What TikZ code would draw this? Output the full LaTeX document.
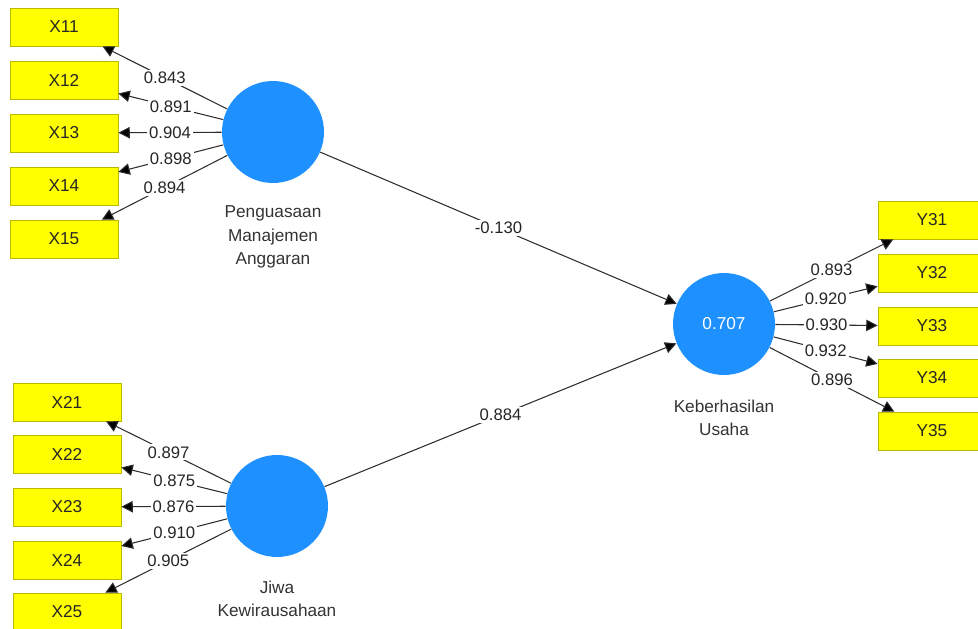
\documentclass[tikz,border=0pt]{standalone}
\usepackage{fontspec}
\setmainfont{Liberation Sans}
\usetikzlibrary{arrows.meta}
\definecolor{giallo}{RGB}{255,255,0}
\definecolor{bordogiallo}{RGB}{185,185,0}
\definecolor{azzurro}{RGB}{30,144,255}
\definecolor{linea}{RGB}{45,45,45}
\tikzset{
    indicatore/.style={draw=bordogiallo, fill=giallo, minimum width=2.16cm, minimum height=0.76cm,
        inner sep=0pt, text=black!85, font=\fontsize{9.8}{11}\selectfont},
    latente/.style={circle, fill=azzurro, minimum size=2.04cm, inner sep=0pt, text=white,
        font=\fontsize{9.8}{11}\selectfont},
    nome/.style={align=center, text=black!80, font=\fontsize{9.8}{13.2}\selectfont},
    freccia/.style={draw=linea, line width=0.6pt, -{Triangle[length=6.5pt,width=6.5pt,fill=black]}},
    coeff/.style={fill=white, inner sep=1.2pt, text=black!85, font=\fontsize{9.5}{11}\selectfont}
}
\begin{document}
\begin{tikzpicture}[x=0.02cm, y=-0.02cm]
    \useasboundingbox (0,0) rectangle (978,629);
    %variabili latenti
        \node[latente] (pma) at (273,132) {};
        \node[latente] (jk) at (277,506) {};
        \node[latente] (ku) at (724,324) {0.707};
        \node[nome] (npma) at (273,237) {Penguasaan\\Manajemen\\Anggaran};
        \node[nome] (njk) at (277,599) {Jiwa\\Kewirausahaan};
        \node[nome] (nku) at (724,418) {Keberhasilan\\Usaha};
    %indicatori X1
        \node[indicatore] (x11) at (64,27) {X11};
        \node[indicatore] (x12) at (64,80) {X12};
        \node[indicatore] (x13) at (64,133) {X13};
        \node[indicatore] (x14) at (64,186) {X14};
        \node[indicatore] (x15) at (64,239) {X15};
    %indicatori X2
        \node[indicatore] (x21) at (67,402) {X21};
        \node[indicatore] (x22) at (67,454) {X22};
        \node[indicatore] (x23) at (67,507) {X23};
        \node[indicatore] (x24) at (67,560) {X24};
        \node[indicatore] (x25) at (67,612) {X25};
    %indicatori Y3
        \node[indicatore] (y31) at (932,220) {Y31};
        \node[indicatore] (y32) at (932,273) {Y32};
        \node[indicatore] (y33) at (932,326) {Y33};
        \node[indicatore] (y34) at (932,378) {Y34};
        \node[indicatore] (y35) at (932,431) {Y35};
    %carichi X1
        \draw[freccia] (pma) -- node[coeff]{0.843} (x11);
        \draw[freccia] (pma) -- node[coeff]{0.891} (x12);
        \draw[freccia] (pma) -- node[coeff]{0.904} (x13);
        \draw[freccia] (pma) -- node[coeff]{0.898} (x14);
        \draw[freccia] (pma) -- node[coeff]{0.894} (x15);
    %carichi X2
        \draw[freccia] (jk) -- node[coeff]{0.897} (x21);
        \draw[freccia] (jk) -- node[coeff]{0.875} (x22);
        \draw[freccia] (jk) -- node[coeff]{0.876} (x23);
        \draw[freccia] (jk) -- node[coeff]{0.910} (x24);
        \draw[freccia] (jk) -- node[coeff]{0.905} (x25);
    %carichi Y3
        \draw[freccia] (ku) -- node[coeff]{0.893} (y31);
        \draw[freccia] (ku) -- node[coeff]{0.920} (y32);
        \draw[freccia] (ku) -- node[coeff]{0.930} (y33);
        \draw[freccia] (ku) -- node[coeff]{0.932} (y34);
        \draw[freccia] (ku) -- node[coeff]{0.896} (y35);
    %percorsi
        \draw[freccia] (pma) -- node[coeff]{-0.130} (ku);
        \draw[freccia] (jk) -- node[coeff]{0.884} (ku);
\end{tikzpicture}
\end{document}
